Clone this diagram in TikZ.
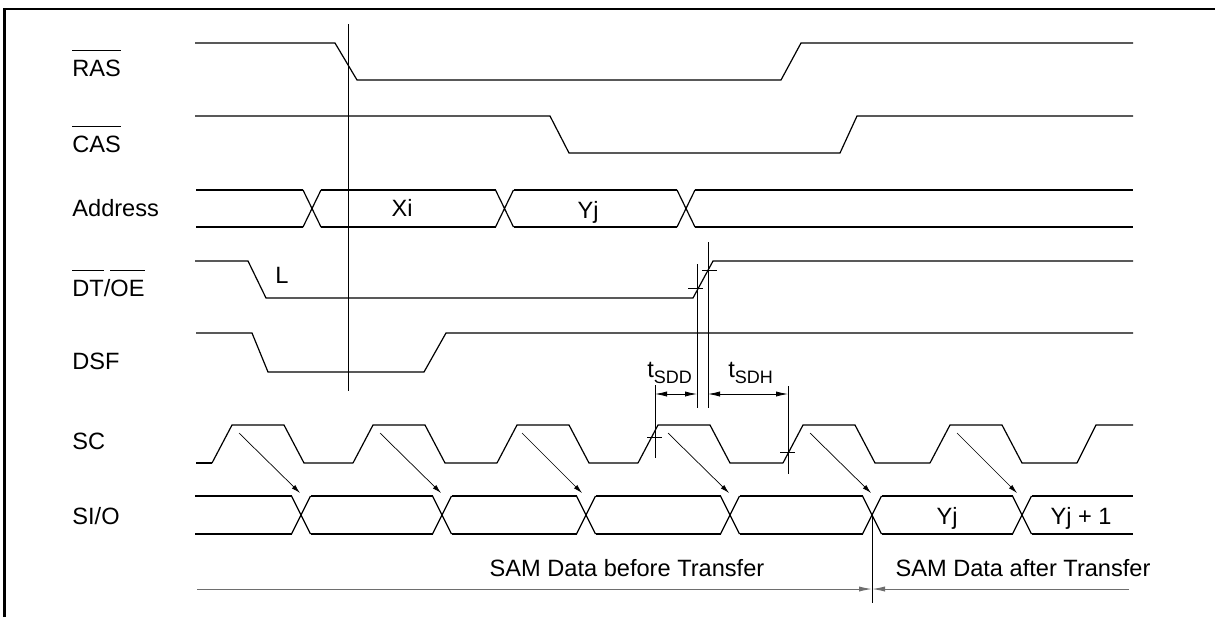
\documentclass[tikz,border=0pt]{standalone}
\usepackage{fontspec}
\setmainfont{Liberation Sans}
\usetikzlibrary{arrows.meta}
\definecolor{RuleGray}{RGB}{110,110,110}
\newcommand{\ovl}[1]{$\overline{\rule{0pt}{0.98em}\hbox{#1}}$}
\newcommand{\tsub}[1]{t\raisebox{-3pt}{\fontsize{9}{10}\selectfont #1}}

\tikzset{
  sig/.style={line width=0.6pt},
  mark line/.style={line width=0.4pt},
  lbl/.style={anchor=base west, inner sep=0pt, font=\fontsize{11.8}{14}\selectfont},
  txt/.style={anchor=base, inner sep=0pt, font=\fontsize{11.8}{14}\selectfont},
  dim/.style={line width=0.4pt, {Latex[length=6pt,width=2.6pt]}-{Latex[length=6pt,width=2.6pt]}},
  cause/.style={line width=0.35pt, -{Latex[length=4.5pt,width=2.4pt]}},
  span/.style={line width=0.5pt, RuleGray, -{Latex[length=6.5pt,width=2.6pt]}},
}

\begin{document}
\begin{tikzpicture}[x=0.5pt, y=-0.5pt]
  \useasboundingbox (0,0) rectangle (1215,617);

  % Frame
  \draw[line width=1.4pt] (4.7,617) -- (4.7,9) -- (1215,9);

  % Signal names
  \node[lbl] (ras)  at (72,76)  {\ovl{RAS}};
  \node[lbl] (cas)  at (72,152) {\ovl{CAS}};
  \node[lbl] (addr) at (72,216) {Address};
  \node[lbl] (dtoe) at (72,296) {\ovl{DT}/\ovl{OE}};
  \node[lbl] (dsf)  at (72,369) {DSF};
  \node[lbl] (sc)   at (72,449) {SC};
  \node[lbl] (sio)  at (72,524) {SI/O};

  % RAS, CAS
  \draw[sig] (195,43) -- (335,43) -- (357,80) -- (781,80) -- (801,43) -- (1133,43);
  \draw[sig] (195,116) -- (550,116) -- (569,153) -- (840,153) -- (857,116) -- (1133,116);

  % Address bus
  \foreach \c in {312,504.5,686}
    \draw[sig] (\c-9,190) -- (\c+9,227) (\c-9,227) -- (\c+9,190);
  \foreach \a/\b in {196/303, 321/495.5, 513.5/677, 695/1133}
    \draw[sig] (\a,190) -- (\b,190) (\a,227) -- (\b,227);
  \node[txt] (xi) at (402,216) {Xi};
  \node[txt] (yj) at (588,218) {Yj};

  % DT/OE and DSF
  \draw[sig] (195,261) -- (248,261) -- (266,298) -- (693,298) -- (713,261) -- (1133,261);
  \node[lbl] (low) at (275,283) {L};
  \draw[sig] (196,333) -- (252,333) -- (268,372) -- (424,372) -- (446,333) -- (1133,333);

  % SC clock
  \draw[sig] (196,463) -- (212,463);
  \foreach \x/\n in {212/353, 353/497, 497/638, 638/783, 783/930, 930/1077}
    \draw[sig] (\x,463) -- ++(20,-38) -- ++(52,0) -- ++(20,38) -- (\n,463);
  \draw[sig] (1077,463) -- ++(19,-38) -- (1133,425);

  % SI/O bus
  \foreach \c in {301,442,586,730,872,1022}
    \draw[sig] (\c-9.5,496) -- (\c+9.5,534) (\c-9.5,534) -- (\c+9.5,496);
  \foreach \a/\b in {195/291.5, 310.5/432.5, 451.5/576.5, 595.5/720.5, 739.5/862.5, 881.5/1012.5, 1031.5/1133}
    \draw[sig] (\a,496) -- (\b,496) (\a,534) -- (\b,534);
  \node[txt] (yjout)  at (947,524)  {Yj};
  \node[txt] (yjnext) at (1081,524) {Yj + 1};

  % SC edge -> SI/O change
  \foreach \s/\e [count=\i] in {239/300, 380/441, 522/582, 668/729, 810/871, 957/1017} {
    \coordinate (sc\i) at (\s,433);
    \coordinate (sio\i) at (\e,493);
    \draw[cause] (sc\i) -- (sio\i);
  }

  % Reference lines and ticks
  \draw[mark line] (348,24) -- (348,391);
  \draw[mark line] (697,264) -- (697,408);
  \draw[mark line] (708,242) -- (708,408);
  \draw[mark line] (655,385) -- (655,458);
  \draw[mark line] (788,386) -- (788,474);
  \draw[mark line] (688,288) -- (703,288);
  \draw[mark line] (702,270) -- (717,270);
  \draw[mark line] (647,437) -- (662,437);
  \draw[mark line] (780,452) -- (795,452);

  % tSDD, tSDH
  \coordinate (sddL) at (655,394);
  \coordinate (sddR) at (697,394);
  \coordinate (sdhL) at (708,394);
  \coordinate (sdhR) at (788,394);
  \draw[dim] (sddL) -- (sddR);
  \draw[dim] (sdhL) -- (sdhR);
  \node[lbl] (tsdd) at (647,377) {\tsub{SDD}};
  \node[lbl] (tsdh) at (728,377) {\tsub{SDH}};

  % Transfer point
  \coordinate (xfer) at (872,589);
  \coordinate (spanL) at (197,589);
  \coordinate (spanR) at (1129,589);
  \draw[mark line] (872,515) -- (872,603);
  \draw[span] (spanL) -- (xfer);
  \draw[span] (spanR) -- (xfer);
  \node[txt] (before) at (627,576)  {SAM Data before Transfer};
  \node[txt] (after)  at (1023,576) {SAM Data after Transfer};
\end{tikzpicture}
\end{document}
